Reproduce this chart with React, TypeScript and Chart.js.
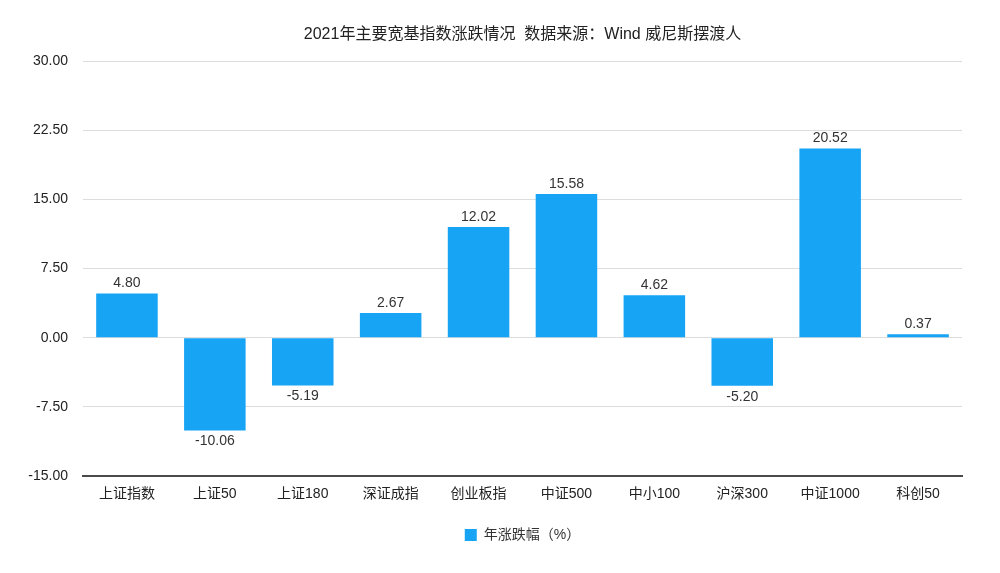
import React, { useEffect, useRef } from "react";
import { Chart, registerables } from "chart.js";

Chart.register(...registerables);

const categories = ["上证指数", "上证50", "上证180", "深证成指", "创业板指", "中证500", "中小100", "沪深300", "中证1000", "科创50"];
const values = [4.8, -10.06, -5.19, 2.67, 12.02, 15.58, 4.62, -5.2, 20.52, 0.37];
const seriesName = "年涨跌幅（%）";
const titleText = "2021年主要宽基指数涨跌情况  数据来源：Wind 威尼斯摆渡人";
const yMin = -15;
const yMax = 30;
const yStep = 7.5;

const FONT = '"Liberation Sans", "Noto Sans CJK SC", sans-serif';
const BAR_COLOR = "#17A4F5";

const labelPlugin = {
  id: "valueLabels",
  afterDatasetsDraw(chart: any) {
    const ctx = chart.ctx;
    const meta = chart.getDatasetMeta(0);
    ctx.save();
    ctx.font = `14px ${FONT}`;
    ctx.fillStyle = "#333";
    ctx.textAlign = "center";
    ctx.textBaseline = "middle";
    meta.data.forEach((bar: any, i: number) => {
      const v = values[i];
      const y = v >= 0 ? bar.y - 10 : bar.y + 11;
      ctx.fillText(v.toFixed(2), bar.x, y);
    });
    ctx.restore();
  },
};

export default function App() {
  const ref = useRef<HTMLCanvasElement | null>(null);
  useEffect(() => {
    if (!ref.current) return;
    const chart = new Chart(ref.current, {
      type: "bar",
      data: {
        labels: categories,
        datasets: [
          {
            label: seriesName,
            data: values,
            backgroundColor: BAR_COLOR,
            borderWidth: 0,
            barPercentage: 0.7,
            categoryPercentage: 1,
          },
        ],
      },
      options: {
        responsive: false,
        animation: false,
        layout: { padding: { left: 0, right: 38, top: 0, bottom: 21 } },
        plugins: {
          title: {
            display: true,
            fullSize: false,
            text: titleText,
            color: "#222",
            font: { family: FONT, size: 16, weight: "normal" },
            padding: { top: 25, bottom: 17 },
          },
          legend: {
            position: "bottom",
            fullSize: false,
            labels: {
              boxWidth: 12,
              boxHeight: 12,
              color: "#333",
              font: { family: FONT, size: 14 },
              padding: 10,
            },
          },
          tooltip: { enabled: false },
        },
        scales: {
          x: {
            grid: { display: false },
            border: { display: true, color: "#4a4a4a", width: 2 },
            ticks: { color: "#222", font: { family: FONT, size: 14 }, padding: 2 },
            afterFit(scale: any) {
              scale.height = 42;
            },
          },
          y: {
            min: yMin,
            max: yMax,
            grid: { color: "#dcdcdc", drawTicks: false },
            border: { display: false },
            ticks: {
              stepSize: yStep,
              color: "#222",
              font: { family: FONT, size: 14 },
              padding: 15,
              callback: (v: any) => Number(v).toFixed(2),
            },
            afterFit(scale: any) {
              scale.width = 83;
            },
          },
        },
      },
      plugins: [labelPlugin],
    });
    return () => chart.destroy();
  }, []);
  return (
    <div style={{ position: "fixed", left: 0, top: 0, width: 1000, height: 573, background: "#fff" }}>
      <canvas ref={ref} width={1000} height={573} />
    </div>
  );
}
